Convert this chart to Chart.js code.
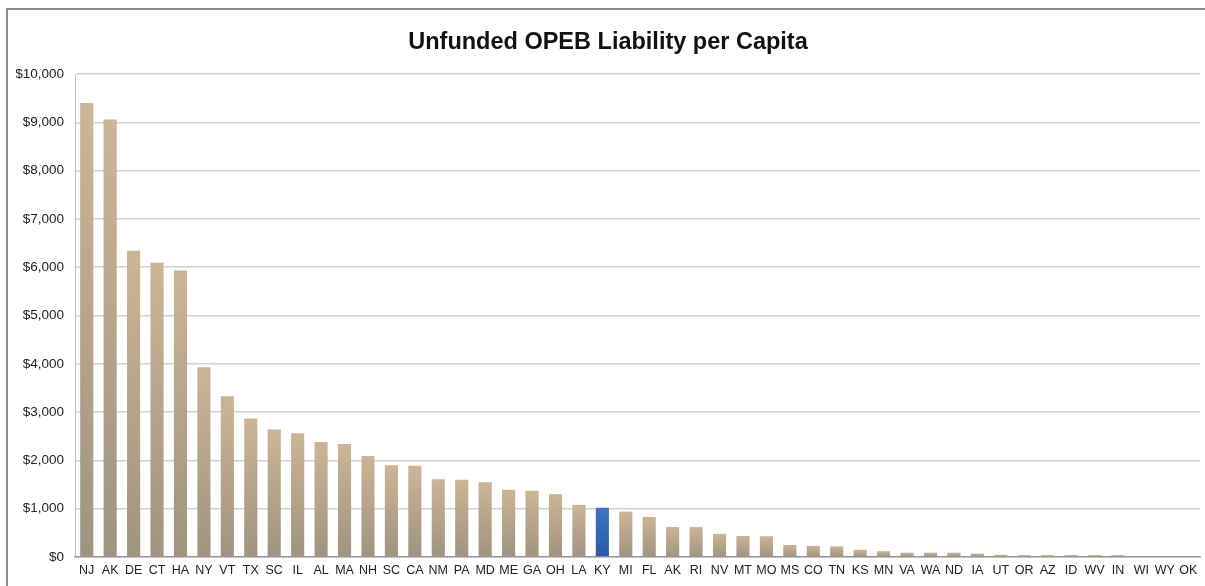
<!DOCTYPE html>
<html>
<head>
<meta charset="utf-8">
<title>Unfunded OPEB Liability per Capita</title>
<script src="https://cdn.jsdelivr.net/npm/chart.js@4/dist/chart.umd.min.js"></script>
<style>
  html, body { margin: 0; padding: 0; background: #fff; overflow: hidden; }
  #frame {
    position: absolute; left: 6px; top: 8px; width: 1300px; height: 700px;
    border: 2px solid #8a8a8a; box-sizing: border-box;
  }
  #wrap { position: absolute; left: 0; top: 0; width: 1205px; height: 586px; }
</style>
</head>
<body>
<div id="frame"></div>
<div id="wrap"><canvas id="opebChart" width="1205" height="586"></canvas></div>
<script>
var states = ["NJ", "AK", "DE", "CT", "HA", "NY", "VT", "TX", "SC", "IL", "AL", "MA",
  "NH", "SC", "CA", "NM", "PA", "MD", "ME", "GA", "OH", "LA", "KY", "MI",
  "FL", "AK", "RI", "NV", "MT", "MO", "MS", "CO", "TN", "KS", "MN", "VA",
  "WA", "ND", "IA", "UT", "OR", "AZ", "ID", "WV", "IN", "WI", "WY", "OK"];
var liabilityPerCapita = [9400, 9060, 6340, 6090, 5930, 3930, 3330, 2870, 2640, 2560, 2380, 2340,
  2090, 1900, 1890, 1610, 1600, 1550, 1390, 1370, 1300, 1080, 1020, 940,
  830, 620, 620, 480, 435, 430, 250, 230, 220, 150, 120, 90,
  90, 90, 70, 45, 40, 40, 40, 40, 40, 0, 0, 0];
var highlightState = "KY";
var yTicks = [0, 1000, 2000, 3000, 4000, 5000, 6000, 7000, 8000, 9000, 10000];

var sans = "'Liberation Sans', Arial, sans-serif";

// each bar gets its own top-to-bottom gradient, lighter at the top
function barFill(ctx) {
  var chart = ctx.chart;
  if (!chart.chartArea || ctx.dataIndex === undefined) return "#bda88a";
  var y = chart.scales.y;
  var top = y.getPixelForValue(liabilityPerCapita[ctx.dataIndex]);
  var base = y.getPixelForValue(0);
  if (base - top < 1) top = base - 1;
  var g = chart.ctx.createLinearGradient(0, top, 0, base);
  if (states[ctx.dataIndex] === highlightState) {
    g.addColorStop(0, "#4175c4");
    g.addColorStop(1, "#2a58a6");
  } else {
    g.addColorStop(0, "#cbb595");
    g.addColorStop(1, "#a09380");
  }
  return g;
}

var opebChart = new Chart(document.getElementById("opebChart"), {
  type: 'bar',
  data: {
    labels: states,
    datasets: [{
      data: liabilityPerCapita,
      backgroundColor: barFill,
      borderWidth: 0,
      categoryPercentage: 1,
      barPercentage: 0.56
    }]
  },
  options: {
    responsive: false,
    animation: false,
    layout: { padding: { left: 16, right: 5, top: 0, bottom: 0 } },
    plugins: {
      legend: { display: false },
      tooltip: { enabled: false },
      title: {
        display: true,
        text: "Unfunded OPEB Liability per Capita",
        color: "#111",
        font: { family: sans, size: 23.5, weight: 'bold' },
        padding: { top: 28, bottom: 17.8 }
      }
    },
    scales: {
      x: {
        grid: { display: false, drawTicks: false },
        border: { color: "#9a9a9a", width: 1.5 },
        ticks: {
          autoSkip: false, maxRotation: 0, minRotation: 0, padding: 6,
          color: "#222",
          font: { family: sans, size: 12.5 }
        },
        afterFit: function (scale) { scale.height = 29; }
      },
      y: {
        min: 0, max: 10000,
        afterBuildTicks: function (scale) {
          scale.ticks = yTicks.map(function (v) { return { value: v }; });
        },
        grid: { color: "#d2d2d2", lineWidth: 1.5, drawTicks: false },
        border: { color: "#bdbdbd", width: 1 },
        ticks: {
          padding: 11,
          color: "#222",
          font: { family: sans, size: 13.5 },
          callback: function (v) { return "$" + Number(v).toLocaleString("en-US"); }
        },
        afterFit: function (scale) { scale.width = 59; }
      }
    }
  }
});
</script>
</body>
</html>
